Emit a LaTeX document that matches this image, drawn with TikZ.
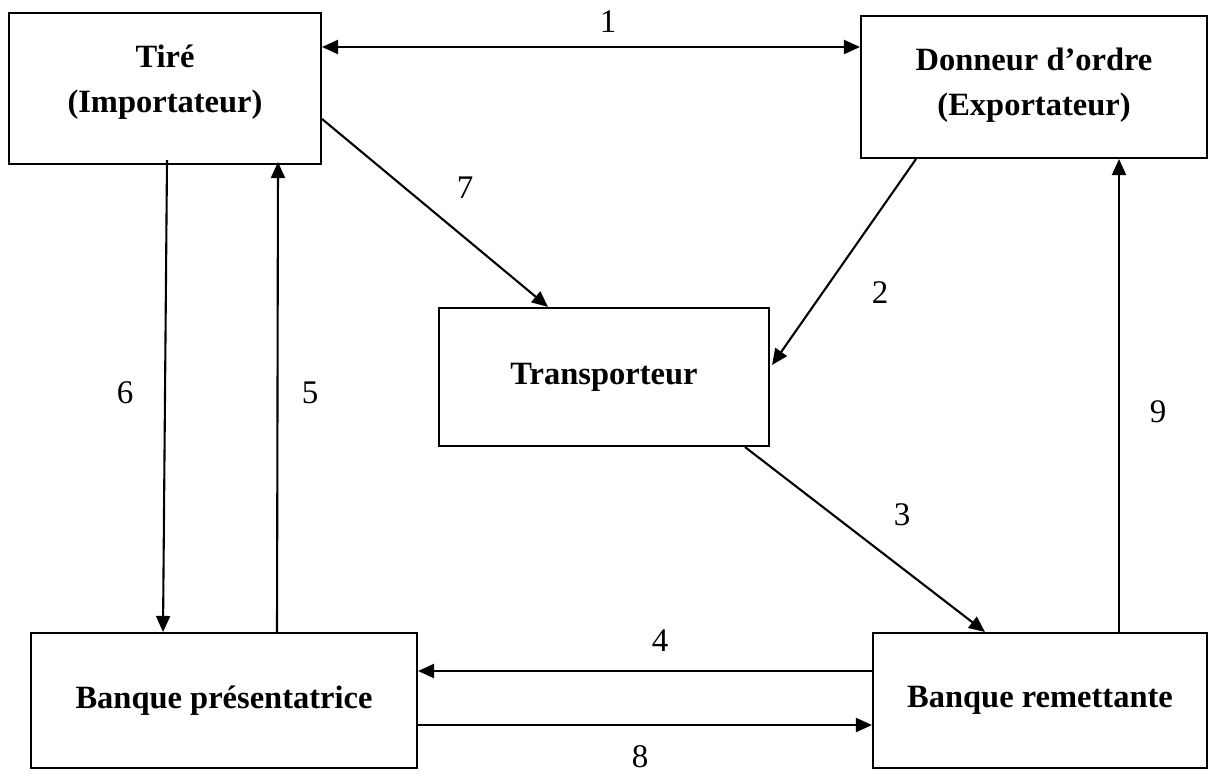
\documentclass[tikz,border=0pt]{standalone}
\usepackage{fontspec}
\setmainfont{Liberation Serif}
\usetikzlibrary{arrows.meta}
\begin{document}
\begin{tikzpicture}[x=1pt,y=-1pt,
  box/.style={draw,line width=2.1pt,inner sep=0pt,align=center,
    font=\fontsize{32.5}{45}\selectfont\bfseries},
  conn/.style={line width=2.1pt,-{Triangle[length=16pt,width=14pt]}},
  biconn/.style={line width=2.1pt,{Triangle[length=16pt,width=14pt]}-{Triangle[length=16pt,width=14pt]}},
  num/.style={font=\fontsize{33}{38}\selectfont,inner sep=0pt}]
\useasboundingbox (0,0) rectangle (1209,776);
\fill[white] (0,0) rectangle (1209,776);
% boxes
\node[box,minimum width=312pt,minimum height=151pt] (tire) at (165,88.5) {};
\node[box,draw=none,align=center] (tiretxt) at (165,82) {Tiré\\(Importateur)};
\node[box,minimum width=346pt,minimum height=142pt] (donneur) at (1034,87) {};
\node[box,draw=none,align=center] (donneurtxt) at (1034,85) {Donneur d’ordre\\(Exportateur)};
\node[box,minimum width=330pt,minimum height=138pt] (transp) at (604,377) {Transporteur};
\node[box,minimum width=386pt,minimum height=135pt] (bp) at (224,700.5) {Banque présentatrice};
\node[box,minimum width=334pt,minimum height=135pt] (br) at (1040,700.5) {Banque remettante};
% connectors
\draw[biconn] ([yshift=41.5pt]tire.east) -- ([yshift=40pt]donneur.west);
\draw[conn] ([yshift=-30.5pt]tire.east) -- ([xshift=-56pt]transp.north);
\draw[conn] ([xshift=-118pt]donneur.south) -- ([xshift=2pt,yshift=12pt]transp.east);
\draw[conn] ([xshift=2pt,yshift=5pt]tire.south) -- ([xshift=-61pt]bp.north);
\draw[conn] ([xshift=53pt]bp.north) -- ([xshift=113pt,yshift=3pt]tire.south);
\draw[conn] ([xshift=79pt]br.north) -- ([xshift=85pt]donneur.south);
\draw[conn] ([xshift=141pt]transp.south) -- ([xshift=-55pt]br.north);
\draw[conn] ([yshift=29.5pt]br.west) -- ([yshift=29.5pt]bp.east);
\draw[conn] ([yshift=-24.5pt]bp.east) -- ([yshift=-24.5pt]br.west);
% labels
\node[num] (l1) at (608,22) {1};
\node[num] (l2) at (880,293) {2};
\node[num] (l3) at (902,515) {3};
\node[num] (l4) at (660,641) {4};
\node[num] (l5) at (310,393) {5};
\node[num] (l6) at (125,393) {6};
\node[num] (l7) at (465,188) {7};
\node[num] (l8) at (640,757) {8};
\node[num] (l9) at (1158,412) {9};
\end{tikzpicture}
\end{document}
